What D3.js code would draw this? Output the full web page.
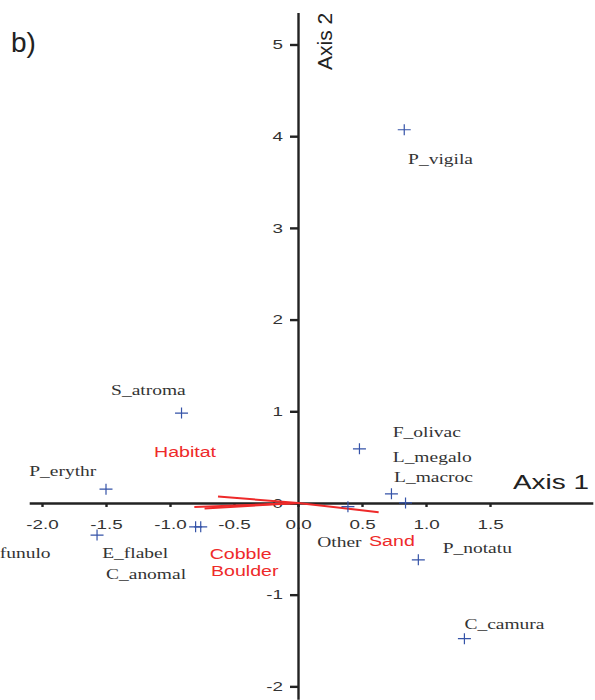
<!DOCTYPE html>
<html>
<head>
<meta charset="utf-8">
<script src="https://cdn.jsdelivr.net/npm/d3@7"></script>
<style>
  body { margin: 0; background: #fff; }
  .tick text { font-family: "Liberation Sans", Arial, sans-serif; font-size: 13px; fill: #333; }
  .domain, .tick line { stroke: #222; stroke-width: 2.4px; }
  .sp { font-family: "Liberation Serif", "Times New Roman", serif; font-size: 15px; fill: #333; }
  .env { font-family: "Liberation Sans", Arial, sans-serif; font-size: 14px; fill: #ee2a2a; }
  .axlab { font-family: "Liberation Sans", Arial, sans-serif; font-size: 21px; fill: #222; }
</style>
</head>
<body>
<div id="chart"></div>
<script>
// species scores on the two ordination axes
const speciesNames = ["P_vigila", "S_atroma", "P_erythr", "funulo", "E_flabel", "C_anomal",
                      "F_olivac", "L_megalo", "L_macroc", "Other", "P_notatu", "C_camura"];
const axis1Scores = [0.83, -0.91, -1.50, -1.57, -0.80, -0.76, 0.48, 0.73, 0.84, 0.39, 0.94, 1.30];
const axis2Scores = [4.07, 0.98, 0.15, -0.35, -0.26, -0.26, 0.59, 0.10, 0.00, -0.04, -0.62, -1.48];
// where each species name sits, in axis units
const labelX = [0.86, -1.46, -2.10, -2.33, -1.53, -1.50, 0.74, 0.74, 0.75, 0.15, 1.13, 1.30];
const labelY = [3.70, 1.18, 0.29, -0.60, -0.60, -0.83, 0.72, 0.45, 0.23, -0.48, -0.55, -1.37];

// environmental vectors
const vectorNames = ["Habitat", "Cobble", "Boulder", "Sand"];
const vectorX = [-0.625, -0.81, -0.73, 0.63];
const vectorY = [0.07, -0.045, -0.06, -0.10];
const vectorLabelX = [-1.125, -0.69, -0.68, 0.555];
const vectorLabelY = [0.50, -0.61, -0.80, -0.47];

const xTicks = [-2.0, -1.5, -1.0, -0.5, 0.0, 0.5, 1.0, 1.5];
const yTicks = [-2, -1, 0, 1, 2, 3, 4, 5];

const width = 595, height = 700;

const svg = d3.select("#chart")
    .append("svg")
    .attr("width", width)
    .attr("height", height);

const x = d3.scaleLinear().domain([-2.1, 2.303]).range([29.2, 592.8]);
const y = d3.scaleLinear().domain([-2.14, 5.35]).range([699.2, 12.4]);

// horizontal text is drawn a bit stretched, like the original figure
function label(g, px, py, str, cls, sx) {
    return g.append("text")
        .attr("class", cls)
        .attr("transform", `translate(${px},${py}) scale(${sx},1)`)
        .text(str);
}

const sxTick = 1.45;

svg.append("g")
    .attr("transform", `translate(0,${y(0)})`)
    .call(d3.axisBottom(x).tickValues(xTicks).tickFormat(d => d.toFixed(1))
        .tickSize(4).tickSizeOuter(0).tickPadding(13))
    .call(g => g.selectAll(".tick text").attr("transform", `scale(${sxTick},1)`));

svg.append("g")
    .attr("transform", `translate(${x(0)},0)`)
    .call(d3.axisLeft(y).tickValues(yTicks).tickFormat(d => String(d))
        .tickSize(8).tickSizeOuter(0).tickPadding(7))
    .call(g => g.selectAll(".tick text")
        .attr("x", -15 / sxTick)
        .attr("transform", `scale(${sxTick},1)`));

// vectors
svg.selectAll(".vec")
    .data(vectorNames)
    .enter()
    .append("line")
    .attr("class", "vec")
    .attr("x1", x(0)).attr("y1", y(0))
    .attr("x2", (d, i) => x(vectorX[i]))
    .attr("y2", (d, i) => y(vectorY[i]))
    .attr("stroke", "#ee2a2a")
    .attr("stroke-width", 2);

vectorNames.forEach((n, i) => label(svg, x(vectorLabelX[i]), y(vectorLabelY[i]), n, "env", 1.4));

// species markers
svg.selectAll(".pt")
    .data(speciesNames)
    .enter()
    .append("path")
    .attr("class", "pt")
    .attr("transform", (d, i) => `translate(${x(axis1Scores[i])},${y(axis2Scores[i])})`)
    .attr("d", "M-6.5,0H6.5M0,-5.5V5.5")
    .attr("stroke", "#3553a8")
    .attr("stroke-width", 1.2)
    .attr("fill", "none");

speciesNames.forEach((n, i) => label(svg, x(labelX[i]), y(labelY[i]), n, "sp", 1.3));

// axis titles
label(svg, 513, 489, "Axis 1", "axlab", 1.33);
svg.append("text")
    .attr("class", "axlab")
    .attr("transform", `translate(332,70) rotate(-90)`)
    .attr("font-size", "22px")
    .text("Axis 2");

svg.append("text")
    .attr("x", 11).attr("y", 52)
    .attr("font-family", "Liberation Sans, Arial, sans-serif")
    .attr("font-size", "28px")
    .attr("fill", "#222")
    .text("b)");
</script>
</body>
</html>
